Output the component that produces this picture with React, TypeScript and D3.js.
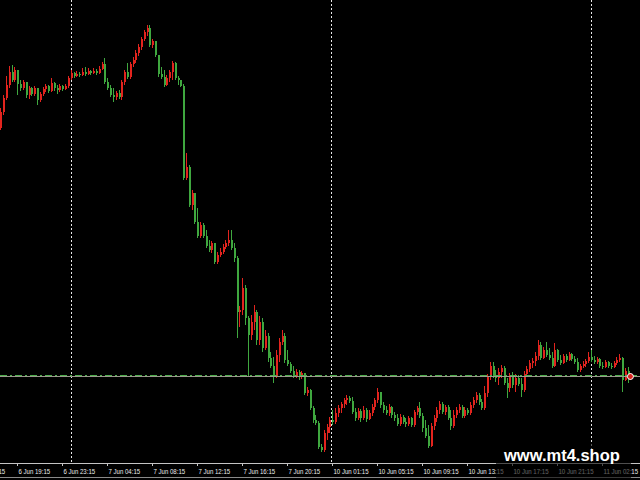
import { useEffect, useRef } from 'react'
import * as d3 from 'd3'

// M15 candles (open of each bar = close of the previous one)
const firstOpen = 1.0872

const closes = [
  1.0888, 1.0902, 1.0915, 1.0928, 1.0920, 1.0930, 1.0916, 1.0912, 1.0918, 1.0905,
  1.0912, 1.0906, 1.0912, 1.0900, 1.0906, 1.0911, 1.0914, 1.0909, 1.0917, 1.0912,
  1.0910, 1.0914, 1.0911, 1.0914, 1.0922, 1.0927, 1.0924, 1.0926, 1.0925, 1.0928,
  1.0926, 1.0929, 1.0927, 1.0929, 1.0927, 1.0931, 1.0936, 1.0918, 1.0912, 1.0905,
  1.0903, 1.0907, 1.0903, 1.0918, 1.0928, 1.0923, 1.0936, 1.0940, 1.0947, 1.0953,
  1.0961, 1.0968, 1.0972, 1.0955, 1.0959, 1.0945, 1.0926, 1.0923, 1.0915, 1.0922,
  1.0928, 1.0937, 1.0922, 1.0920, 1.0914, 1.0822, 1.0833, 1.0795, 1.0807, 1.0778,
  1.0764, 1.0775, 1.0764, 1.0754, 1.0750, 1.0757, 1.0738, 1.0745, 1.0748, 1.0753,
  1.0757, 1.0760, 1.0752, 1.0742, 1.0688, 1.0690, 1.0712, 1.0682, 1.0665, 1.0678,
  1.0688, 1.0660, 1.0678, 1.0652, 1.0664, 1.0642, 1.0634, 1.0624, 1.0645, 1.0658,
  1.0664, 1.0640, 1.0636, 1.0629, 1.0624, 1.0628, 1.0623, 1.0627, 1.0607, 1.0610,
  1.0592, 1.0580, 1.0577, 1.0553, 1.0550, 1.0567, 1.0573, 1.0580, 1.0578, 1.0587,
  1.0592, 1.0596, 1.0600, 1.0602, 1.0599, 1.0588, 1.0582, 1.0589, 1.0582, 1.0590,
  1.0581, 1.0587, 1.0593, 1.0600, 1.0608, 1.0595, 1.0590, 1.0587, 1.0593, 1.0585,
  1.0582, 1.0576, 1.0583, 1.0578, 1.0576, 1.0582, 1.0575, 1.0588, 1.0592, 1.0584,
  1.0572, 1.0564, 1.0554, 1.0574, 1.0582, 1.0590, 1.0596, 1.0588, 1.0593, 1.0582,
  1.0574, 1.0585, 1.0590, 1.0593, 1.0584, 1.0590, 1.0587, 1.0595, 1.0600, 1.0605,
  1.0598, 1.0592, 1.0607, 1.0623, 1.0634, 1.0624, 1.0622, 1.0628, 1.0632, 1.0617,
  1.0612, 1.0623, 1.0615, 1.0622, 1.0616, 1.0610, 1.0626, 1.0631, 1.0637, 1.0639,
  1.0644, 1.0655, 1.0642, 1.0650, 1.0645, 1.0642, 1.0634, 1.0650, 1.0640, 1.0637,
  1.0644, 1.0640, 1.0646, 1.0641, 1.0638, 1.0630, 1.0634, 1.0636, 1.0639, 1.0643,
  1.0640, 1.0638, 1.0641, 1.0634, 1.0633, 1.0638, 1.0634, 1.0633, 1.0637, 1.0640,
  1.0642, 1.0620, 1.0629, 1.0622, 1.0624,
]

const highs = [
  1.0892, 1.0905, 1.0924, 1.0934, 1.0935, 1.0933, 1.0930, 1.0920, 1.0920, 1.0916,
  1.0914, 1.0913, 1.0914, 1.0912, 1.0908, 1.0913, 1.0916, 1.0915, 1.0922, 1.0918,
  1.0915, 1.0916, 1.0915, 1.0916, 1.0924, 1.0930, 1.0928, 1.0929, 1.0928, 1.0932,
  1.0933, 1.0932, 1.0930, 1.0932, 1.0931, 1.0934, 1.0938, 1.0942, 1.0922, 1.0915,
  1.0912, 1.0909, 1.0910, 1.0920, 1.0930, 1.0937, 1.0938, 1.0943, 1.0950, 1.0956,
  1.0963, 1.0970, 1.0975, 1.0975, 1.0961, 1.0958, 1.0945, 1.0933, 1.0930, 1.0925,
  1.0930, 1.0939, 1.0938, 1.0924, 1.0920, 1.0916, 1.0847, 1.0835, 1.0810, 1.0807,
  1.0792, 1.0778, 1.0777, 1.0770, 1.0760, 1.0759, 1.0756, 1.0748, 1.0752, 1.0756,
  1.0760, 1.0770, 1.0770, 1.0757, 1.0744, 1.0694, 1.0722, 1.0715, 1.0684, 1.0685,
  1.0695, 1.0690, 1.0684, 1.0682, 1.0670, 1.0667, 1.0648, 1.0643, 1.0650, 1.0662,
  1.0670, 1.0667, 1.0650, 1.0638, 1.0634, 1.0631, 1.0630, 1.0629, 1.0627, 1.0613,
  1.0611, 1.0594, 1.0585, 1.0579, 1.0556, 1.0570, 1.0576, 1.0583, 1.0590, 1.0592,
  1.0595, 1.0598, 1.0602, 1.0605, 1.0604, 1.0603, 1.0592, 1.0592, 1.0591, 1.0594,
  1.0592, 1.0590, 1.0596, 1.0602, 1.0612, 1.0608, 1.0598, 1.0594, 1.0596, 1.0594,
  1.0588, 1.0586, 1.0586, 1.0585, 1.0582, 1.0584, 1.0583, 1.0590, 1.0594, 1.0598,
  1.0587, 1.0580, 1.0575, 1.0577, 1.0585, 1.0593, 1.0599, 1.0598, 1.0595, 1.0595,
  1.0590, 1.0590, 1.0593, 1.0596, 1.0595, 1.0593, 1.0592, 1.0598, 1.0603, 1.0608,
  1.0607, 1.0601, 1.0614, 1.0626, 1.0638, 1.0638, 1.0630, 1.0632, 1.0635, 1.0634,
  1.0622, 1.0627, 1.0628, 1.0626, 1.0625, 1.0622, 1.0629, 1.0634, 1.0640, 1.0642,
  1.0648, 1.0660, 1.0658, 1.0653, 1.0658, 1.0652, 1.0648, 1.0657, 1.0651, 1.0645,
  1.0646, 1.0646, 1.0648, 1.0647, 1.0644, 1.0642, 1.0636, 1.0639, 1.0641, 1.0648,
  1.0650, 1.0644, 1.0643, 1.0642, 1.0638, 1.0640, 1.0639, 1.0637, 1.0639, 1.0643,
  1.0646, 1.0643, 1.0632, 1.0633, 1.0627,
]

const lows = [
  1.0870, 1.0885, 1.0900, 1.0912, 1.0918, 1.0918, 1.0905, 1.0909, 1.0910, 1.0902,
  1.0901, 1.0904, 1.0904, 1.0895, 1.0898, 1.0904, 1.0908, 1.0907, 1.0908, 1.0909,
  1.0906, 1.0908, 1.0909, 1.0910, 1.0912, 1.0920, 1.0922, 1.0923, 1.0923, 1.0924,
  1.0924, 1.0925, 1.0925, 1.0926, 1.0925, 1.0926, 1.0930, 1.0916, 1.0910, 1.0903,
  1.0898, 1.0900, 1.0901, 1.0900, 1.0915, 1.0921, 1.0921, 1.0933, 1.0937, 1.0944,
  1.0950, 1.0959, 1.0964, 1.0953, 1.0952, 1.0943, 1.0923, 1.0921, 1.0913, 1.0914,
  1.0918, 1.0920, 1.0920, 1.0915, 1.0913, 1.0820, 1.0820, 1.0793, 1.0790, 1.0776,
  1.0762, 1.0762, 1.0762, 1.0752, 1.0748, 1.0747, 1.0736, 1.0736, 1.0743, 1.0746,
  1.0751, 1.0754, 1.0750, 1.0738, 1.0662, 1.0673, 1.0685, 1.0675, 1.0623, 1.0660,
  1.0670, 1.0655, 1.0655, 1.0648, 1.0650, 1.0638, 1.0632, 1.0617, 1.0622, 1.0638,
  1.0655, 1.0637, 1.0634, 1.0627, 1.0622, 1.0622, 1.0620, 1.0621, 1.0605, 1.0604,
  1.0590, 1.0577, 1.0575, 1.0551, 1.0548, 1.0548, 1.0560, 1.0567, 1.0575, 1.0576,
  1.0583, 1.0587, 1.0592, 1.0595, 1.0597, 1.0586, 1.0579, 1.0580, 1.0578, 1.0580,
  1.0578, 1.0580, 1.0584, 1.0590, 1.0597, 1.0592, 1.0587, 1.0585, 1.0584, 1.0582,
  1.0579, 1.0574, 1.0574, 1.0576, 1.0573, 1.0574, 1.0573, 1.0573, 1.0585, 1.0582,
  1.0568, 1.0562, 1.0552, 1.0553, 1.0570, 1.0578, 1.0586, 1.0586, 1.0585, 1.0580,
  1.0570, 1.0572, 1.0582, 1.0587, 1.0582, 1.0582, 1.0585, 1.0585, 1.0592, 1.0597,
  1.0595, 1.0590, 1.0590, 1.0603, 1.0620, 1.0622, 1.0618, 1.0615, 1.0622, 1.0615,
  1.0602, 1.0608, 1.0612, 1.0608, 1.0614, 1.0603, 1.0608, 1.0623, 1.0628, 1.0632,
  1.0634, 1.0640, 1.0640, 1.0641, 1.0643, 1.0640, 1.0632, 1.0633, 1.0638, 1.0635,
  1.0636, 1.0638, 1.0639, 1.0639, 1.0636, 1.0628, 1.0628, 1.0632, 1.0633, 1.0637,
  1.0638, 1.0636, 1.0636, 1.0632, 1.0631, 1.0632, 1.0632, 1.0631, 1.0632, 1.0635,
  1.0638, 1.0608, 1.0619, 1.0617, 1.0620,
]

// time axis: bar index of each label
const tickBars = [-10, 6, 22, 38, 54, 70, 86, 102, 118, 134, 150, 166, 182, 198, 214]
const tickLabels = [
  '6 Jun 15:15', '6 Jun 19:15', '6 Jun 23:15', '7 Jun 04:15', '7 Jun 08:15',
  '7 Jun 12:15', '7 Jun 16:15', '7 Jun 20:15', '10 Jun 01:15', '10 Jun 05:15',
  '10 Jun 09:15', '10 Jun 13:15', '10 Jun 17:15', '10 Jun 21:15', '11 Jun 02:15',
]
const daySeparators = [25, 117.5, 210]

const bidPrice = 1.0624
const orderPrice = 1.0625
const watermark = 'www.mt4.shop'

export default function App() {
  const svgRef = useRef<SVGSVGElement>(null)

  useEffect(() => {
    if (!svgRef.current) return
    const svg = d3.select(svgRef.current)
    svg.selectAll('*').remove()

    const width = 640
    const height = 480
    const plotBottom = 463
    const upColor = '#e3241e'
    const downColor = '#3fa73f'

    svg.append('rect').attr('width', width).attr('height', height).attr('fill', '#000')

    const x = d3.scaleLinear().domain([0, closes.length - 1]).range([0.4, 630.4])
    const y = d3.scaleLinear().domain([1.1, 1.0537]).range([0, plotBottom])

    const bars = closes.map((c, i) => {
      const o = i === 0 ? firstOpen : closes[i - 1]
      return { i, o, c, h: Math.max(highs[i], o, c), l: Math.min(lows[i], o, c) }
    })

    // day separators
    svg.append('g')
      .selectAll('line')
      .data(daySeparators)
      .enter()
      .append('line')
      .attr('x1', d => Math.round(x(d)) + 0.5)
      .attr('x2', d => Math.round(x(d)) + 0.5)
      .attr('y1', 0)
      .attr('y2', plotBottom)
      .attr('stroke', '#e8e8e8')
      .attr('stroke-width', 1)
      .attr('stroke-dasharray', '2,2')

    // candles
    const candles = svg.append('g').attr('shape-rendering', 'crispEdges')
    const g = candles.selectAll('g')
      .data(bars)
      .enter()
      .append('g')

    g.append('line')
      .attr('x1', d => Math.round(x(d.i)) + 0.5)
      .attr('x2', d => Math.round(x(d.i)) + 0.5)
      .attr('y1', d => y(d.h))
      .attr('y2', d => y(d.l))
      .attr('stroke', d => (d.c > d.o ? upColor : downColor))
      .attr('stroke-width', 1)

    g.append('rect')
      .attr('x', d => Math.round(x(d.i)))
      .attr('y', d => Math.min(y(d.o), y(d.c)))
      .attr('width', 2)
      .attr('height', d => Math.max(1, Math.abs(y(d.o) - y(d.c))))
      .attr('fill', d => (d.c > d.o ? upColor : downColor))

    // bid line + order level
    const yb = Math.round(y(bidPrice)) + 0.5
    svg.append('line')
      .attr('x1', 0).attr('x2', width)
      .attr('y1', yb).attr('y2', yb)
      .attr('stroke', '#9b9a8c')
      .attr('stroke-width', 1)
    const yo = Math.round(y(orderPrice)) + 0.5
    svg.append('line')
      .attr('x1', 0).attr('x2', width)
      .attr('y1', yo).attr('y2', yo)
      .attr('stroke', '#4cae4c')
      .attr('stroke-width', 1.2)
      .attr('stroke-dasharray', '7,3,2,3')

    // last price marker
    svg.append('circle')
      .attr('cx', x(closes.length - 1))
      .attr('cy', yb)
      .attr('r', 3)
      .attr('fill', '#d8231e')
      .attr('stroke', '#fff')
      .attr('stroke-width', 1)

    // time axis
    svg.append('line')
      .attr('x1', 0).attr('x2', width)
      .attr('y1', plotBottom + 0.5).attr('y2', plotBottom + 0.5)
      .attr('stroke', '#c4c4c4')
    svg.append('line')
      .attr('x1', 0).attr('x2', width)
      .attr('y1', 477.5).attr('y2', 477.5)
      .attr('stroke', '#8a8a8a')

    const ticks = svg.append('g')
    tickBars.forEach((b, k) => {
      const tx = Math.round(x(b)) + 0.5
      ticks.append('line')
        .attr('x1', tx).attr('x2', tx)
        .attr('y1', plotBottom).attr('y2', plotBottom + 3)
        .attr('stroke', '#c4c4c4')
      ticks.append('text')
        .attr('transform', `translate(${tx + 1},473.5) scale(0.82,1)`)
        .attr('fill', '#ececec')
        .attr('font-family', 'Liberation Sans, Arial, sans-serif')
        .attr('font-size', 7.4)
        .text(tickLabels[k])
    })

    // watermark
    svg.append('rect')
      .attr('x', 496).attr('y', 444)
      .attr('width', 135).attr('height', 34)
      .attr('fill', '#000')
      .attr('opacity', 0.6)
    svg.append('text')
      .attr('x', 504)
      .attr('y', 461)
      .attr('fill', '#fff')
      .attr('font-family', 'Liberation Sans, Arial, sans-serif')
      .attr('font-weight', 'bold')
      .attr('font-size', 16.5)
      .text(watermark)
  }, [])

  return (
    <svg
      ref={svgRef}
      width={640}
      height={480}
      style={{ position: 'absolute', left: 0, top: 0, display: 'block' }}
    />
  )
}
